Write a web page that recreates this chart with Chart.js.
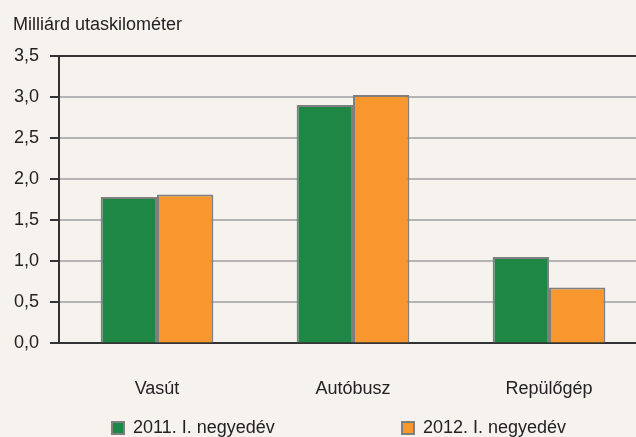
<!DOCTYPE html>
<html lang="hu">
<head>
<meta charset="utf-8"/>
<title>Utaskilométer</title>
<script src="https://cdn.jsdelivr.net/npm/chart.js"></script>
<style>
    html, body { margin: 0; padding: 0; background: #f6f3ef; overflow: hidden; }
    #wrap { width: 650px; height: 437px; }
</style>
</head>
<body>
<div id="wrap"><canvas id="chart" width="650" height="437"></canvas></div>
<script>
    const kategoriak = ['Vasút', 'Autóbusz', 'Repülőgép'];
    const ertekek2011 = [1.78, 2.90, 1.05];
    const ertekek2012 = [1.81, 3.02, 0.68];
    const sorozatok = ['2011. I. negyedév', '2012. I. negyedév'];
    const yTicks = [0, 0.5, 1, 1.5, 2, 2.5, 3, 3.5];

    const zold = '#1f8745';
    const narancs = '#f8972d';
    const keret = '#7f7f7f';
    const sotet = '#333333';

    Chart.defaults.font.family = "'Liberation Sans', Arial, sans-serif";
    Chart.defaults.font.size = 18;
    Chart.defaults.color = '#222';

    // saját jelmagyarázat, a két elem messze van egymástól
    const jelmagyarazat = {
        id: 'jelmagyarazat',
        afterDraw(chart, args, opts) {
            const ctx = chart.ctx;
            ctx.save();
            ctx.font = "18px 'Liberation Sans', Arial, sans-serif";
            ctx.textBaseline = 'middle';
            chart.data.datasets.forEach((ds, i) => {
                const x = opts.x[i];
                ctx.fillStyle = ds.backgroundColor;
                ctx.fillRect(x, opts.y, 14, 14);
                ctx.strokeStyle = keret;
                ctx.lineWidth = 2;
                ctx.strokeRect(x + 1, opts.y + 1, 12, 12);
                ctx.fillStyle = '#222';
                ctx.fillText(ds.label, x + 22, opts.y + 7);
            });
            ctx.restore();
        }
    };

    new Chart(document.getElementById('chart'), {
        type: 'bar',
        data: {
            labels: kategoriak,
            datasets: [
                { label: sorozatok[0], data: ertekek2011, backgroundColor: zold, borderColor: keret, borderWidth: 2 },
                { label: sorozatok[1], data: ertekek2012, backgroundColor: narancs, borderColor: keret, borderWidth: 2 }
            ]
        },
        options: {
            responsive: false,
            animation: false,
            devicePixelRatio: 1,
            categoryPercentage: 0.575,
            barPercentage: 1,
            layout: { padding: { left: 13, right: 3, bottom: 2, top: 0 } },
            plugins: {
                legend: { display: false },
                tooltip: { enabled: false },
                title: {
                    display: true,
                    text: 'Milliárd utaskilométer',
                    align: 'start',
                    font: { size: 18, weight: 'normal' },
                    padding: { top: 14, bottom: 20 }
                },
                jelmagyarazat: { x: [111, 401], y: 421 }
            },
            scales: {
                x: {
                    grid: { display: false, drawTicks: false },
                    border: { display: true, color: sotet, width: 2 },
                    ticks: { padding: 35 }
                },
                y: {
                    min: 0,
                    max: 3.5,
                    afterBuildTicks: s => { s.ticks = yTicks.map(v => ({ value: v })); },
                    afterFit: s => { s.width = 46; },
                    grid: {
                        color: c => c.tick && c.tick.value === 3.5 ? sotet : '#b4b4b4',
                        lineWidth: 2,
                        tickColor: sotet,
                        tickLength: 9
                    },
                    border: { display: true, color: sotet, width: 2 },
                    ticks: {
                        padding: 11,
                        callback: v => v.toFixed(1).replace('.', ',')
                    }
                }
            }
        },
        plugins: [jelmagyarazat]
    });
</script>
</body>
</html>
